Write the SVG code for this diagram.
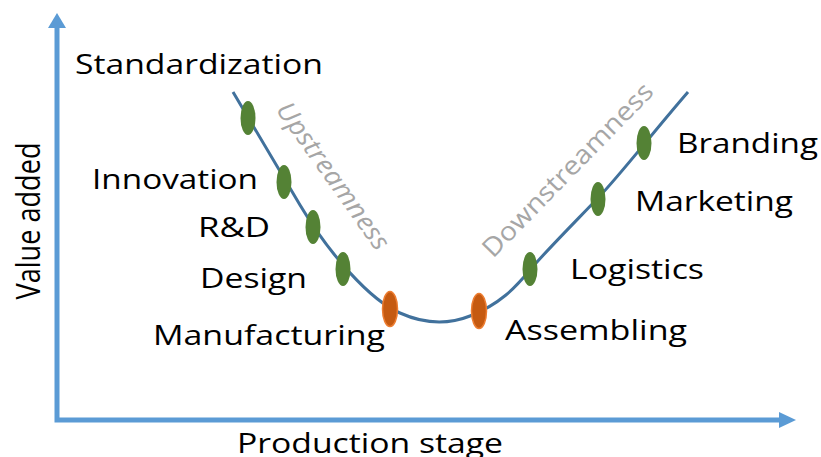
<svg xmlns="http://www.w3.org/2000/svg" width="821" height="457" viewBox="0 0 821 457">
<style>
.lbl{font-family:"Open Sans","Noto Sans","Liberation Sans",sans-serif;font-size:28px;fill:#000}
.gray{font-family:"Open Sans","Noto Sans","Liberation Sans",sans-serif;font-size:26px;fill:#A6A6A6}
.axis{fill:none;stroke:#5B9BD5;stroke-width:5}
.curve{fill:none;stroke:#41719C;stroke-width:3}
.g{fill:#548235}
.o{fill:#C55A11;stroke:#ED7D31;stroke-width:1.5}
</style>
<rect width="821" height="457" fill="#fff"/>
<g id="connectors">
<path class="axis" d="M57,27 V420 H780"/>
<polygon points="57,13 48,28 66,28" fill="#5B9BD5"/>
<polygon points="796,420 779,412 779,428" fill="#5B9BD5"/>
<path class="curve" d="M233,92 L300,205 C330,255 370,300 400,313 C420,322 445,326 470,316 C500,304 515,288 530,270 S575,222 598,198 S650,136 688,92"/>
</g>
<g id="axis-labels">
<text class="lbl" transform="translate(40,221) scale(1.2,1) rotate(-90)" text-anchor="middle" textLength="157" lengthAdjust="spacingAndGlyphs">Value added</text>
<text class="lbl" x="237" y="453" textLength="266" lengthAdjust="spacingAndGlyphs">Production stage</text>
</g>
<g id="trend-labels">
<text class="gray" font-style="italic" transform="translate(326,181) rotate(54.5)" text-anchor="middle" textLength="175" lengthAdjust="spacingAndGlyphs">Upstreamness</text>
<text class="gray" transform="translate(574,176) rotate(-45.7)" text-anchor="middle" textLength="232" lengthAdjust="spacingAndGlyphs">Downstreamness</text>
</g>
<g id="standardization"><ellipse class="g" cx="248" cy="118" rx="7.5" ry="17"/><text class="lbl" x="75" y="74" textLength="248" lengthAdjust="spacingAndGlyphs">Standardization</text></g>
<g id="innovation"><ellipse class="g" cx="284" cy="182" rx="7.5" ry="17"/><text class="lbl" x="92" y="189" textLength="166" lengthAdjust="spacingAndGlyphs">Innovation</text></g>
<g id="rd"><ellipse class="g" cx="313" cy="227" rx="7.5" ry="17"/><text class="lbl" x="198" y="237" textLength="72" lengthAdjust="spacingAndGlyphs">R&amp;D</text></g>
<g id="design"><ellipse class="g" cx="343" cy="269" rx="7.5" ry="17"/><text class="lbl" x="200" y="288" textLength="107" lengthAdjust="spacingAndGlyphs">Design</text></g>
<g id="manufacturing"><ellipse class="o" cx="390" cy="309" rx="7.5" ry="17.5"/><text class="lbl" x="153" y="345" textLength="232" lengthAdjust="spacingAndGlyphs">Manufacturing</text></g>
<g id="assembling"><ellipse class="o" cx="479" cy="311" rx="7.5" ry="17.5"/><text class="lbl" x="505" y="340" textLength="182" lengthAdjust="spacingAndGlyphs">Assembling</text></g>
<g id="logistics"><ellipse class="g" cx="530" cy="269" rx="7.5" ry="17"/><text class="lbl" x="570" y="279" textLength="134" lengthAdjust="spacingAndGlyphs">Logistics</text></g>
<g id="marketing"><ellipse class="g" cx="598" cy="199" rx="7.5" ry="17"/><text class="lbl" x="635" y="211" textLength="158" lengthAdjust="spacingAndGlyphs">Marketing</text></g>
<g id="branding"><ellipse class="g" cx="644" cy="143" rx="7.5" ry="17"/><text class="lbl" x="677" y="153" textLength="141" lengthAdjust="spacingAndGlyphs">Branding</text></g>
</svg>
